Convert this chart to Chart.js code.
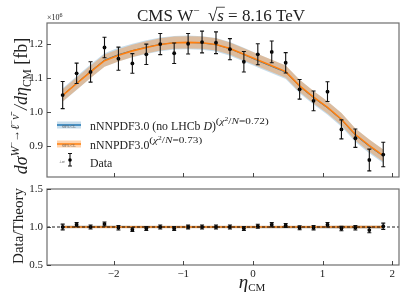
<!DOCTYPE html>
<html><head><meta charset="utf-8">
<script src="https://cdn.jsdelivr.net/npm/chart.js@4/dist/chart.umd.min.js"></script>
<style>
html,body{margin:0;padding:0;background:#fff;}
#wrap{position:relative;width:407px;height:305px;}
canvas{position:absolute;left:0;top:0;}
</style></head><body>
<div id="wrap"><canvas id="c1" width="407" height="305"></canvas><canvas id="c2" width="407" height="305"></canvas></div>
<script>
// ---------------- data (values in units of 10^6 fb) ----------------
const etaCM = [-2.73,-2.53,-2.33,-2.13,-1.93,-1.73,-1.53,-1.33,-1.13,-0.93,-0.73,-0.53,-0.33,-0.13,0.07,0.27,0.47,0.67,0.87,1.07,1.27,1.47,1.67,1.87];
const dataXsec = [1.051,1.115,1.119,1.191,1.158,1.144,1.171,1.201,1.174,1.202,1.207,1.205,1.186,1.149,1.171,1.178,1.146,1.068,1.034,1.061,0.950,0.924,0.860,0.876];
const dataErr  = [0.040,0.030,0.030,0.030,0.034,0.029,0.030,0.031,0.030,0.030,0.032,0.032,0.031,0.030,0.031,0.032,0.030,0.029,0.029,0.029,0.028,0.027,0.032,0.036];
const thOrange = [1.050,1.085,1.119,1.152,1.168,1.181,1.191,1.200,1.205,1.206,1.205,1.200,1.188,1.171,1.154,1.137,1.120,1.078,1.045,1.015,0.980,0.935,0.902,0.873];
const thBlue   = [1.051,1.086,1.121,1.154,1.170,1.182,1.192,1.200,1.205,1.206,1.204,1.199,1.187,1.170,1.152,1.135,1.118,1.076,1.043,1.013,0.978,0.933,0.900,0.871];
const bandOrange = [0.018,0.018,0.018,0.018,0.018,0.018,0.018,0.018,0.018,0.018,0.018,0.018,0.018,0.018,0.018,0.018,0.018,0.018,0.018,0.018,0.018,0.018,0.018,0.018];
const bandBlue   = [0.020,0.020,0.020,0.020,0.020,0.020,0.020,0.020,0.020,0.020,0.020,0.020,0.020,0.020,0.020,0.020,0.020,0.020,0.020,0.020,0.020,0.020,0.020,0.020];
const ratioData = [1.00,1.03,1.00,1.04,0.99,0.965,0.98,1.00,0.98,1.00,1.00,1.00,1.00,0.98,1.01,1.03,1.02,0.99,0.99,1.03,0.98,0.99,0.96,1.01];
const yTicksTop = [0.9,1.0,1.1,1.2];
const yTicksBot = [0.5,1.0,1.5];
const xTicks = [-2,-1,0,1,2];

// ---------------- style ----------------
const F = "'Liberation Serif','DejaVu Serif',serif";
const BLUE = '#1f77b4', ORANGE = '#ff7f0e';
const BLUE_A = 'rgba(31,119,180,0.25)', ORANGE_A = 'rgba(255,127,14,0.35)';
const FRAME = '#6e6e6e';
const fmtNum = v => (v<0?'\u2212':'') + Math.abs(v).toFixed(1);
const fmtInt = v => (v<0?'\u2212':'') + Math.abs(v).toFixed(0);

function pts(ys){ return etaCM.map((x,i)=>({x:x,y:ys[i]})); }
function fnt(s){ return (s.i?'italic ':'')+s.z+'px '+F; }
function rich(ctx,x,y,segs,align,sx){
  sx = sx||1;
  let w=0;
  segs.forEach(s=>{ctx.font=fnt(s); s.w=ctx.measureText(s.t).width*(s.sx||1); w+=s.w;});
  let cx = align==='center'? -w/2 : (align==='right'? -w : 0);
  ctx.save(); ctx.translate(x,y); ctx.scale(sx,1);
  ctx.textAlign='left'; ctx.textBaseline='alphabetic';
  segs.forEach(s=>{
    ctx.font=fnt(s);
    ctx.save(); ctx.translate(cx,(s.dy||0)); ctx.scale(s.sx||1,1); ctx.fillText(s.t,0,0); ctx.restore();
    if(s.over){ ctx.save(); ctx.lineWidth=0.8; ctx.strokeStyle=ctx.fillStyle; ctx.beginPath();
      ctx.moveTo(cx-1,-s.z*0.78); ctx.lineTo(cx+s.w+1,-s.z*0.78); ctx.stroke(); ctx.restore(); }
    cx+=s.w;
  });
  ctx.restore();
  return w*sx;
}

function bandDatasets(center, half, color, ord){
  return [
    {data:pts(center.map((c,i)=>c+half[i])), fill:'+1', backgroundColor:color, borderWidth:0, pointRadius:0, order:ord},
    {data:pts(center.map((c,i)=>c-half[i])), fill:false, borderWidth:0, pointRadius:0, order:ord}
  ];
}

// frame + inward ticks
const framePlugin = {
  id:'frame',
  afterDraw(chart){
    const {ctx, chartArea:a, scales} = chart;
    ctx.save();
    ctx.strokeStyle=FRAME; ctx.lineWidth=1.2;
    ctx.strokeRect(a.left,a.top,a.right-a.left,a.bottom-a.top);
    ctx.strokeStyle='#333'; ctx.lineWidth=0.9;
    ctx.beginPath();
    xTicks.forEach(v=>{const px=Math.round(scales.x.getPixelForValue(v))+0.5; ctx.moveTo(px,a.bottom); ctx.lineTo(px,a.bottom-4);});
    (chart.$yt||[]).forEach(v=>{const py=Math.round(scales.y.getPixelForValue(v))+0.5; ctx.moveTo(a.left,py); ctx.lineTo(a.left+4,py);});
    ctx.stroke();
    ctx.restore();
  }
};

// error bars
function errPlugin(vals, errs, withLine){
  return {
    id:'err',
    afterDatasetsDraw(chart){
      const {ctx, chartArea:a, scales:{x,y}} = chart;
      ctx.save();
      if(withLine){
        ctx.strokeStyle='#000'; ctx.lineWidth=0.9; ctx.setLineDash([3,2]);
        const py=y.getPixelForValue(1);
        ctx.beginPath(); ctx.moveTo(a.left,py); ctx.lineTo(a.right,py); ctx.stroke();
        ctx.setLineDash([]);
      }
      ctx.strokeStyle='#111'; ctx.lineWidth=1.1;
      etaCM.forEach((e,i)=>{
        const px=x.getPixelForValue(e);
        const y1=y.getPixelForValue(vals[i]-errs[i]), y2=y.getPixelForValue(vals[i]+errs[i]);
        ctx.beginPath();
        ctx.moveTo(px,y1); ctx.lineTo(px,y2);
        ctx.moveTo(px-2,y1); ctx.lineTo(px+2,y1);
        ctx.moveTo(px-2,y2); ctx.lineTo(px+2,y2);
        ctx.stroke();
      });
      ctx.restore();
    }
  };
}

// texts + legend
const textPlugin = {
  id:'texts',
  afterDraw(chart){
    const ctx=chart.ctx;
    ctx.save();
    ctx.fillStyle='#222';
    rich(ctx,221,20.5,[{t:'CMS W',z:17},{t:'\u2212',z:11,dy:-7},{t:'  ',z:17},{t:'\u221A',z:17},{t:'s',z:17,i:true,over:true},{t:' = 8.16 TeV',z:17}],'center');
    rich(ctx,47,20,[{t:'\u00D710',z:8},{t:'6',z:6,dy:-3}],'left');
    rich(ctx,252,288,[{t:'\u03B7',z:19,i:true},{t:'CM',z:11,dy:3}],'center');
    ctx.save(); ctx.translate(27,106); ctx.rotate(-Math.PI/2);
    rich(ctx,0,0,[{t:'d\u03C3',z:18,i:true},{t:'W',z:12,i:true,dy:-8},{t:'\u2212',z:8.5,dy:-13},{t:'\u2192',z:12,dy:-8},{t:'\u2113',z:12,i:true,dy:-8},{t:'\u2212',z:8.5,dy:-13},{t:'\u03BD\u0304',z:12,i:true,dy:-8},{t:' /d\u03B7',z:18,i:true},{t:'CM',z:11.5,dy:4},{t:' [fb]',z:18}],'center');
    ctx.restore();
    ctx.save(); ctx.translate(23,226); ctx.rotate(-Math.PI/2);
    rich(ctx,0,0,[{t:'Data/Theory',z:15}],'center');
    ctx.restore();
    // legend
    ctx.fillStyle=BLUE_A; ctx.fillRect(57,121.5,24,7);
    ctx.fillStyle=ORANGE_A; ctx.fillRect(57,140.5,24,7);
    ctx.lineWidth=1.5;
    ctx.strokeStyle=BLUE; ctx.beginPath(); ctx.moveTo(57,125); ctx.lineTo(81,125); ctx.stroke();
    ctx.strokeStyle=ORANGE; ctx.beginPath(); ctx.moveTo(57,144); ctx.lineTo(81,144); ctx.stroke();
    ctx.fillStyle='#555';
    rich(ctx,69,128.3,[{t:'68% CL',z:4}],'center');
    rich(ctx,69,147.3,[{t:'68% CL',z:4}],'center');
    rich(ctx,62,163,[{t:'\u00B1\u03C3',z:5}],'center');
    ctx.strokeStyle='#111'; ctx.lineWidth=1.1; ctx.beginPath();
    ctx.moveTo(70,153.5); ctx.lineTo(70,166); ctx.moveTo(68,153.5); ctx.lineTo(72,153.5); ctx.moveTo(68,166); ctx.lineTo(72,166); ctx.stroke();
    ctx.fillStyle='#000'; ctx.beginPath(); ctx.arc(70,160,1.8,0,Math.PI*2); ctx.fill();
    ctx.fillStyle='#222';
    const Z=11.8, SZ=9, SS=1.25;
    rich(ctx,90,129.5,[{t:'nNNPDF3.0 (no LHCb ',z:Z},{t:'D',z:Z,i:true},{t:')',z:Z},{t:'(',z:SZ,dy:-6,sx:SS},{t:'\u03C7',z:SZ,i:true,dy:-6,sx:SS},{t:'2',z:6,dy:-9,sx:SS},{t:'/',z:SZ,dy:-6,sx:SS},{t:'N',z:SZ,i:true,dy:-6,sx:SS},{t:'=0.72)',z:SZ,dy:-6,sx:SS}],'left');
    rich(ctx,90,148.5,[{t:'nNNPDF3.0',z:Z},{t:'(',z:SZ,dy:-6,sx:SS},{t:'\u03C7',z:SZ,i:true,dy:-6,sx:SS},{t:'2',z:6,dy:-9,sx:SS},{t:'/',z:SZ,dy:-6,sx:SS},{t:'N',z:SZ,i:true,dy:-6,sx:SS},{t:'=0.73)',z:SZ,dy:-6,sx:SS}],'left');
    rich(ctx,90,166.5,[{t:'Data',z:Z}],'left');
    ctx.restore();
  }
};

function yScale(min,max,ticks){
  return {min:min,max:max,
    afterBuildTicks:s=>{s.ticks=ticks.map(v=>({value:v}));},
    ticks:{callback:v=>fmtNum(v),font:{family:F,size:11},color:'#222',padding:4},
    grid:{display:false,drawTicks:false}, border:{display:false},
    afterFit:s=>{s.width=47;}};
}

// ---------------- top chart ----------------
const chartTop = new Chart(document.getElementById('c1'),{
  type:'line',
  data:{datasets:[
    {data:pts(dataXsec), showLine:false, pointRadius:1.9, pointBackgroundColor:'#000', pointBorderWidth:0, order:0},
    {data:pts(thOrange), borderColor:ORANGE, borderWidth:1.6, pointRadius:0, fill:false, order:1},
    {data:pts(thBlue), borderColor:BLUE, borderWidth:1.0, pointRadius:0, fill:false, order:2},
    ...bandDatasets(thOrange,bandOrange,ORANGE_A,3),
    ...bandDatasets(thBlue,bandBlue,BLUE_A,4)
  ]},
  options:{animation:false,responsive:false,devicePixelRatio:1,
    layout:{padding:{top:23,right:8,bottom:128,left:0}},
    plugins:{legend:{display:false},tooltip:{enabled:false}},
    elements:{line:{tension:0}},
    scales:{
      x:{type:'linear',min:-2.955,max:2.096,ticks:{display:false},grid:{display:false,drawTicks:false},border:{display:false},afterFit:s=>{s.height=0;}},
      y:yScale(0.81,1.263,yTicksTop)
    }},
  plugins:[errPlugin(dataXsec,dataErr,false),framePlugin,textPlugin]
});
chartTop.$yt=yTicksTop; chartTop.draw();

// ---------------- ratio chart ----------------
const rOrange = thOrange.map(()=>1);
const rBlue = thBlue.map((b,i)=>b/thOrange[i]);
const rBandO = bandOrange.map((h,i)=>h/thOrange[i]);
const rBandB = bandBlue.map((h,i)=>h/thOrange[i]);
const rErr = dataErr.map((e,i)=>e/thOrange[i]);
const chartBot = new Chart(document.getElementById('c2'),{
  type:'line',
  data:{datasets:[
    {data:pts(ratioData), showLine:false, pointRadius:1.9, pointBackgroundColor:'#000', pointBorderWidth:0, order:0},
    {data:pts(rOrange), borderColor:ORANGE, borderWidth:1.5, pointRadius:0, fill:false, order:1},
    {data:pts(rBlue), borderColor:BLUE, borderWidth:1.0, pointRadius:0, fill:false, order:2},
    ...bandDatasets(rOrange,rBandO,ORANGE_A,3),
    ...bandDatasets(rBlue,rBandB,BLUE_A,4)
  ]},
  options:{animation:false,responsive:false,devicePixelRatio:1,
    layout:{padding:{top:189,right:8,bottom:0,left:0}},
    plugins:{legend:{display:false},tooltip:{enabled:false}},
    scales:{
      x:{type:'linear',min:-2.955,max:2.096,
        afterBuildTicks:s=>{s.ticks=xTicks.map(v=>({value:v}));},
        ticks:{callback:v=>fmtInt(v),font:{family:F,size:11},color:'#222',padding:3,maxRotation:0,autoSkip:false},
        grid:{display:false,drawTicks:false},border:{display:false},afterFit:s=>{s.height=40;}},
      y:yScale(0.5,1.5,yTicksBot)
    }},
  plugins:[errPlugin(ratioData,rErr,true),framePlugin]
});
chartBot.$yt=yTicksBot; chartBot.draw();
</script>
</body></html>
